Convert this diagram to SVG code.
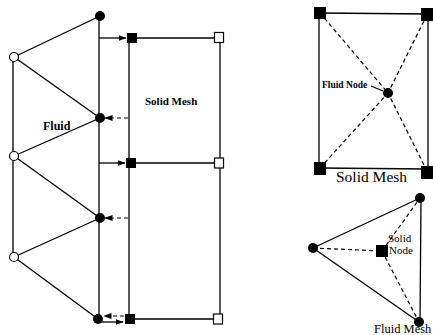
<svg xmlns="http://www.w3.org/2000/svg" width="433" height="335" viewBox="0 0 433 335">
<style>
.ln{stroke:#000;stroke-width:1.3;fill:none}
.ds{stroke:#000;stroke-width:1.2;fill:none;stroke-dasharray:4 3}
.fc{fill:#000}
.oc{fill:#fff;stroke:#000;stroke-width:1.2}
.t{font-family:"Liberation Serif",serif;fill:#000}
</style>
<defs>
<marker id="ah" markerWidth="8" markerHeight="6" refX="7.5" refY="3" orient="auto" markerUnits="userSpaceOnUse">
<path d="M0,0 L8,3 L0,6 Z" fill="#000"/>
</marker>
</defs>
<rect width="433" height="335" fill="#fff"/>
<g id="connectors">
<line class="ln" x1="13" y1="57" x2="13" y2="257"/>
<line class="ln" x1="99" y1="16" x2="99" y2="319"/>
<line class="ln" x1="14" y1="57" x2="100" y2="16"/>
<line class="ln" x1="14" y1="57" x2="100" y2="118"/>
<line class="ln" x1="14" y1="156" x2="100" y2="118"/>
<line class="ln" x1="14" y1="156" x2="100" y2="218"/>
<line class="ln" x1="14" y1="257" x2="100" y2="218"/>
<line class="ln" x1="14" y1="257" x2="98" y2="319"/>
<line class="ln" x1="129" y1="38" x2="129" y2="319"/>
<line class="ln" x1="220" y1="38" x2="220" y2="319"/>
<line class="ln" x1="132" y1="38" x2="219" y2="38"/>
<line class="ln" x1="132" y1="163" x2="219" y2="163"/>
<line class="ln" x1="130" y1="319" x2="219" y2="319"/>
<line class="ln" x1="99" y1="38" x2="126" y2="38" marker-end="url(#ah)"/>
<line class="ln" x1="99" y1="163" x2="125" y2="163" marker-end="url(#ah)"/>
<line class="ds" x1="128" y1="118" x2="105" y2="118" marker-end="url(#ah)"/>
<line class="ds" x1="128" y1="218" x2="105" y2="218" marker-end="url(#ah)"/>
<line class="ds" x1="124" y1="316" x2="104" y2="316" marker-end="url(#ah)"/>
<line class="ln" x1="99" y1="322" x2="123" y2="322" marker-end="url(#ah)"/>
<line class="ln" x1="320" y1="13" x2="427" y2="14"/>
<line class="ln" x1="319" y1="13" x2="319" y2="168"/>
<line class="ln" x1="428" y1="14" x2="428" y2="172"/>
<line class="ln" x1="320" y1="168" x2="427" y2="169"/>
<line class="ds" x1="320" y1="13" x2="388" y2="93"/>
<line class="ds" x1="427" y1="15" x2="388" y2="93"/>
<line class="ds" x1="320" y1="168" x2="388" y2="93"/>
<line class="ds" x1="427" y1="171" x2="388" y2="93"/>
<line class="ln" x1="371" y1="86" x2="383" y2="91" stroke-width="0.9"/>
<line class="ln" x1="313" y1="248" x2="420" y2="198"/>
<line class="ln" x1="313" y1="248" x2="419" y2="322"/>
<line class="ln" x1="421" y1="198" x2="420" y2="322"/>
<line class="ds" x1="313" y1="248" x2="382" y2="251"/>
<line class="ds" x1="382" y1="251" x2="420" y2="198"/>
<line class="ds" x1="382" y1="251" x2="419" y2="322"/>
</g>
<g id="fluid-nodes">
<circle class="fc" cx="100" cy="16" r="5"/>
<circle class="fc" cx="100" cy="118" r="5"/>
<circle class="fc" cx="100" cy="218" r="5"/>
<circle class="fc" cx="98" cy="319" r="5"/>
<circle class="oc" cx="14" cy="57" r="4.5"/>
<circle class="oc" cx="14" cy="156" r="4.5"/>
<circle class="oc" cx="14" cy="257" r="4.5"/>
</g>
<g id="solid-nodes">
<rect class="fc" x="127" y="33" width="10" height="10"/>
<rect class="fc" x="126" y="158" width="10" height="10"/>
<rect class="fc" x="125" y="314" width="10" height="10"/>
<rect class="oc" x="214.5" y="32.5" width="9" height="10"/>
<rect class="oc" x="214.5" y="158" width="9" height="10"/>
<rect class="oc" x="213.5" y="314" width="9" height="10"/>
</g>
<g id="labels-left">
<text class="t" x="43" y="130" font-size="12" font-weight="bold">Fluid</text>
<text class="t" x="145" y="105" font-size="11" font-weight="bold">Solid Mesh</text>
</g>
<g id="solid-mesh-detail">
<rect class="fc" x="314" y="7" width="12" height="12"/>
<rect class="fc" x="421" y="8" width="12" height="13"/>
<rect class="fc" x="314" y="162" width="12" height="13"/>
<rect class="fc" x="421" y="166" width="12" height="13"/>
<circle class="fc" cx="388" cy="93" r="5"/>
<text class="t" x="322" y="88" font-size="9.5" font-weight="bold">Fluid Node</text>
<text class="t" x="336" y="182" font-size="15.5">Solid Mesh</text>
</g>
<g id="fluid-mesh-detail">
<circle class="fc" cx="313" cy="248" r="5"/>
<circle class="fc" cx="420" cy="198" r="5"/>
<circle class="fc" cx="419" cy="322" r="5"/>
<rect class="fc" x="376" y="245" width="12" height="12"/>
<text class="t" x="388" y="242" font-size="11">Solid</text>
<text class="t" x="389" y="254" font-size="11">Node</text>
<text class="t" x="374" y="333" font-size="12.5">Fluid Mesh</text>
</g>
</svg>
